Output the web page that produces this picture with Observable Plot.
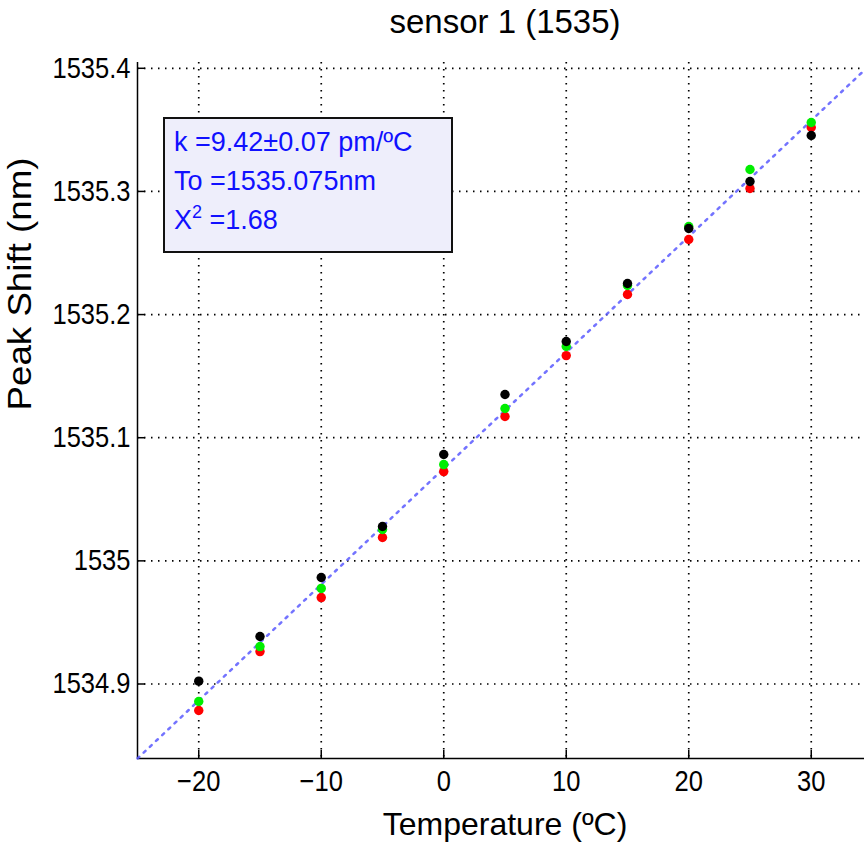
<!DOCTYPE html>
<html>
<head>
<meta charset="utf-8">
<script src="https://cdn.jsdelivr.net/npm/d3@7"></script>
<script src="https://cdn.jsdelivr.net/npm/@observablehq/plot@0.6"></script>
<style>
  html, body { margin: 0; padding: 0; background: white; overflow: hidden; }
  #wrap { position: relative; width: 864px; height: 844px; overflow: hidden; }
  #wrap svg { max-width: none !important; display: block; }
  #legend {
    position: absolute; left: 163px; top: 117px; width: 277px; height: 128px;
    background: #eeeefb; border: 2px solid #111;
    font-family: "Liberation Sans", Arial, sans-serif; font-size: 27px; line-height: 39px;
    color: #1010ff; padding: 4px 0 0 9px; box-sizing: content-box; white-space: nowrap;
  }
  #legend sup { font-size: 18px; line-height: 0; vertical-align: 11px; }
</style>
</head>
<body>
<div id="wrap"></div>
<script>
// ---- data ----
const titleText = "sensor 1 (1535)";
const xLabel = "Temperature (ºC)";
const yLabel = "Peak Shift (nm)";
const temps = [-20, -15, -10, -5, 0, 5, 10, 15, 20, 25, 30];
const seriesBlack = [1534.9023, 1534.9386, 1534.9865, 1535.0279, 1535.0864, 1535.1351, 1535.1781, 1535.2252, 1535.2699, 1535.3081, 1535.3454];
const seriesGreen = [1534.8858, 1534.9304, 1534.9776, 1535.0255, 1535.0782, 1535.1237, 1535.1741, 1535.2236, 1535.2715, 1535.3178, 1535.3560];
const seriesRed   = [1534.8785, 1534.9263, 1534.9702, 1535.0190, 1535.0725, 1535.1172, 1535.1667, 1535.2163, 1535.2610, 1535.3024, 1535.3519];
const xTicks = [-20, -10, 0, 10, 20, 30];
const yTicks = [1534.9, 1535.0, 1535.1, 1535.2, 1535.3, 1535.4];
const yTickLabels = ["1534.9", "1535", "1535.1", "1535.2", "1535.3", "1535.4"];
const fitK = 9.42;      // pm/ºC
const fitT0 = 1535.075; // nm
const fitRange = [-25, 35];

// ---- build ----
const fitData = fitRange.map(t => ({t, v: fitT0 + fitK * t / 1000}));
const yDomain = [fitData[0].v, fitData[1].v];
const mk = (arr) => temps.map((t, i) => ({t, v: arr[i]}));

const W = 872, H = 844, mT = 62, mL = 137, mB = 86, mR = 0;
const plotW = W - mL - mR, plotH = H - mT - mB;
const font = "'Liberation Sans', Arial, Helvetica, sans-serif";

const chart = Plot.plot({
  width: W, height: H,
  marginTop: mT, marginLeft: mL, marginRight: mR, marginBottom: mB,
  x: {domain: fitRange},
  y: {domain: yDomain},
  style: {fontFamily: font, background: "white", color: "black"},
  marks: [
    Plot.gridX(xTicks, {stroke: "black", strokeOpacity: 1, strokeWidth: 1.7, strokeDasharray: "1.5,5.5"}),
    Plot.gridY(yTicks, {stroke: "black", strokeOpacity: 1, strokeWidth: 1.7, strokeDasharray: "1.5,5.5"}),
    Plot.ruleX(xTicks, {insetTop: plotH - 8, stroke: "black", strokeWidth: 1.5}),
    Plot.ruleY(yTicks, {insetRight: plotW - 8, stroke: "black", strokeWidth: 1.5}),
    Plot.ruleX([fitRange[0]], {stroke: "black", strokeWidth: 1.5}),
    Plot.ruleY([yDomain[0]], {stroke: "black", strokeWidth: 1.5}),
    Plot.axisX(xTicks, {tickSize: 0, tickPadding: 12, fontSize: 29, label: null}),
    Plot.axisY(yTicks, {tickSize: 0, tickPadding: 7, fontSize: 29, label: null,
      tickFormat: (d) => yTickLabels[yTicks.indexOf(d)]}),
    Plot.line(fitData, {x: "t", y: "v", stroke: "#5a5aff", strokeWidth: 2.5, strokeDasharray: "2.5,6", strokeOpacity: 0.85}),
    Plot.dot(mk(seriesRed), {x: "t", y: "v", r: 4.7, fill: "#ff0000", stroke: "none"}),
    Plot.dot(mk(seriesGreen), {x: "t", y: "v", r: 4.7, fill: "#00ee00", stroke: "none"}),
    Plot.dot(mk(seriesBlack), {x: "t", y: "v", r: 4.7, fill: "black", stroke: "none"}),
    Plot.text([titleText], {frameAnchor: "top", lineAnchor: "middle", dy: -40, fontSize: 33}),
    Plot.text([xLabel], {frameAnchor: "bottom", lineAnchor: "middle", dy: 66, fontSize: 32}),
    Plot.text([yLabel], {frameAnchor: "left", lineAnchor: "middle", dx: -117, rotate: -90, fontSize: 33})
  ]
});

const wrap = document.getElementById("wrap");
wrap.appendChild(chart);

// slightly condensed tick labels, as in the reference
d3.select(chart)
  .selectAll("g[aria-label='x-axis tick label'] text, g[aria-label='y-axis tick label'] text")
  .each(function () {
    const len = this.getComputedTextLength();
    this.setAttribute("textLength", len * 0.88);
    this.setAttribute("lengthAdjust", "spacingAndGlyphs");
  });
// y label stretched to the reference length
d3.select(chart).selectAll("g[aria-label='text'] text").each(function () {
  if (this.textContent === yLabel) {
    this.setAttribute("textLength", 253);
    this.setAttribute("lengthAdjust", "spacingAndGlyphs");
  }
});

const legend = document.createElement("div");
legend.id = "legend";
legend.innerHTML = `k =${fitK.toFixed(2)}±0.07 pm/ºC<br>To =${fitT0.toFixed(3)}nm<br>X<sup>2</sup> =1.68`;
wrap.appendChild(legend);
</script>
</body>
</html>
